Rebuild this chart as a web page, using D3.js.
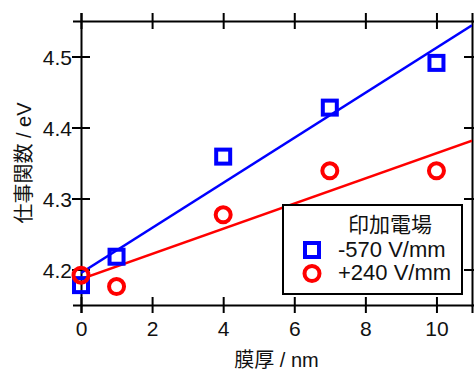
<!DOCTYPE html>
<html>
<head>
<meta charset="utf-8">
<script src="https://cdn.jsdelivr.net/npm/d3@7"></script>
<style>
  body { margin: 0; background: #fff; }
  text { font-family: "Liberation Sans", "Noto Sans CJK JP", sans-serif; fill: #111; }
</style>
</head>
<body>
<div id="container"></div>
<script>
/* DATA */
const thickness = [0, 1, 4, 7, 10];            // 膜厚 / nm
const wfNeg570 = [4.178, 4.218, 4.359, 4.428, 4.491]; // -570 V/mm
const wfPos240 = [4.192, 4.176, 4.277, 4.339, 4.339]; // +240 V/mm
const xTicks = [0, 2, 4, 6, 8, 10];
const yTicks = [4.2, 4.3, 4.4, 4.5];
const legendTitle = "印加電場";
const seriesNames = ["-570 V/mm", "+240 V/mm"];

/* CONSTANTS */
const width = 474, height = 372;
const margin = { top: 21, right: 2, bottom: 67, left: 81 };
const blue = "#0000ff", red = "#ff0000";

const svg = d3.select("#container").append("svg")
  .attr("width", width)
  .attr("height", height);

const xScale = d3.scaleLinear().domain([0, 11]).range([margin.left, width - margin.right]);
const yScale = d3.scaleLinear().domain([4.15, 4.55]).range([height - margin.bottom, margin.top]);

const x0 = xScale.range()[0], x1 = xScale.range()[1];
const yb = yScale.range()[0], yt = yScale.range()[1];

svg.append("clipPath").attr("id", "plot-clip")
  .append("rect")
  .attr("x", x0).attr("y", yt)
  .attr("width", x1 - x0).attr("height", yb - yt);

// least squares fit line
function fit(xs, ys) {
  const mx = d3.mean(xs), my = d3.mean(ys);
  const sxy = d3.sum(xs, (x, i) => (x - mx) * (ys[i] - my));
  const sxx = d3.sum(xs, x => (x - mx) * (x - mx));
  const b = sxy / sxx;
  return x => my + b * (x - mx);
}

/* AXES */
function styleAxis(g) {
  g.select(".domain").attr("stroke", "#000").attr("stroke-width", 2);
  g.selectAll(".tick line").attr("stroke", "#000").attr("stroke-width", 2);
  g.selectAll("text").style("font-size", "21px").attr("fill", "#111");
}

svg.append("g")
  .attr("transform", `translate(0,${yb})`)
  .call(d3.axisBottom(xScale).tickValues(xTicks).tickFormat(d3.format("d")).tickSizeOuter(0).tickSize(8))
  .call(styleAxis)
  .call(g => g.selectAll(".tick line").attr("y1", -8).attr("y2", 8))
  .call(g => g.selectAll(".tick text").attr("y", 31).attr("dy", 0));

svg.append("g")
  .attr("transform", `translate(0,${yt})`)
  .call(d3.axisTop(xScale).tickValues(xTicks).tickFormat("").tickSizeOuter(0).tickSize(8))
  .call(styleAxis)
  .call(g => g.selectAll(".tick line").attr("y1", -8).attr("y2", 8));

svg.append("g")
  .attr("transform", `translate(${x0},0)`)
  .call(d3.axisLeft(yScale).tickValues(yTicks).tickFormat(d3.format(".1f")).tickSizeOuter(0).tickSize(8))
  .call(styleAxis)
  .call(g => g.selectAll(".tick line").attr("x1", -9).attr("x2", 9))
  .call(g => g.selectAll(".tick text").attr("x", -9).attr("dy", "0.4em"));

svg.append("g")
  .attr("transform", `translate(${x1},0)`)
  .call(d3.axisRight(yScale).tickValues(yTicks).tickFormat("").tickSizeOuter(0).tickSize(8))
  .call(styleAxis)
  .call(g => g.selectAll(".tick line").attr("x1", -8).attr("x2", 8));

/* AXIS LABELS */
svg.append("text")
  .attr("x", (x0 + x1) / 2)
  .attr("y", 367)
  .attr("text-anchor", "middle")
  .style("font-size", "20px")
  .text("膜厚 / nm");

svg.append("text")
  .attr("transform", `translate(31,${(yt + yb) / 2}) rotate(-90)`)
  .attr("text-anchor", "middle")
  .style("font-size", "20px")
  .text("仕事関数 / eV");

/* MARKS */
const plot = svg.append("g").attr("clip-path", "url(#plot-clip)");
const markerG = svg.append("g");

const series = [
  { values: wfNeg570, color: blue, shape: "square" },
  { values: wfPos240, color: red, shape: "circle" }
];

const line = d3.line().x(d => xScale(d[0])).y(d => yScale(d[1]));

series.forEach(s => {
  const f = fit(thickness, s.values);
  const dom = xScale.domain();
  plot.append("path")
    .attr("d", line(dom.map(x => [x, f(x)])))
    .attr("fill", "none")
    .attr("stroke", s.color)
    .attr("stroke-width", 2.5);
});

function drawMarker(g, shape, color, cx, cy) {
  if (shape === "square") {
    g.append("rect")
      .attr("x", cx - 7).attr("y", cy - 7)
      .attr("width", 14).attr("height", 14)
      .attr("fill", "none").attr("stroke", color).attr("stroke-width", 4);
  } else {
    g.append("circle")
      .attr("cx", cx).attr("cy", cy).attr("r", 7.5)
      .attr("fill", "none").attr("stroke", color).attr("stroke-width", 4);
  }
}

series.forEach(s => {
  thickness.forEach((t, i) => drawMarker(markerG, s.shape, s.color, xScale(t), yScale(s.values[i])));
});

/* LEGEND */
const legend = svg.append("g");
legend.append("rect")
  .attr("x", 283).attr("y", 205)
  .attr("width", 179).attr("height", 89)
  .attr("fill", "#fff").attr("stroke", "#000").attr("stroke-width", 2);
legend.append("text")
  .attr("x", 390).attr("y", 232)
  .attr("text-anchor", "middle")
  .style("font-size", "21px")
  .text(legendTitle);
const rowY = [250, 273.5];
series.forEach((s, i) => {
  drawMarker(legend, s.shape, s.color, 312, rowY[i]);
  legend.append("text")
    .attr("x", 338).attr("y", rowY[i] + 6.5)
    .style("font-size", "22px")
    .text(seriesNames[i]);
});
</script>
</body>
</html>
